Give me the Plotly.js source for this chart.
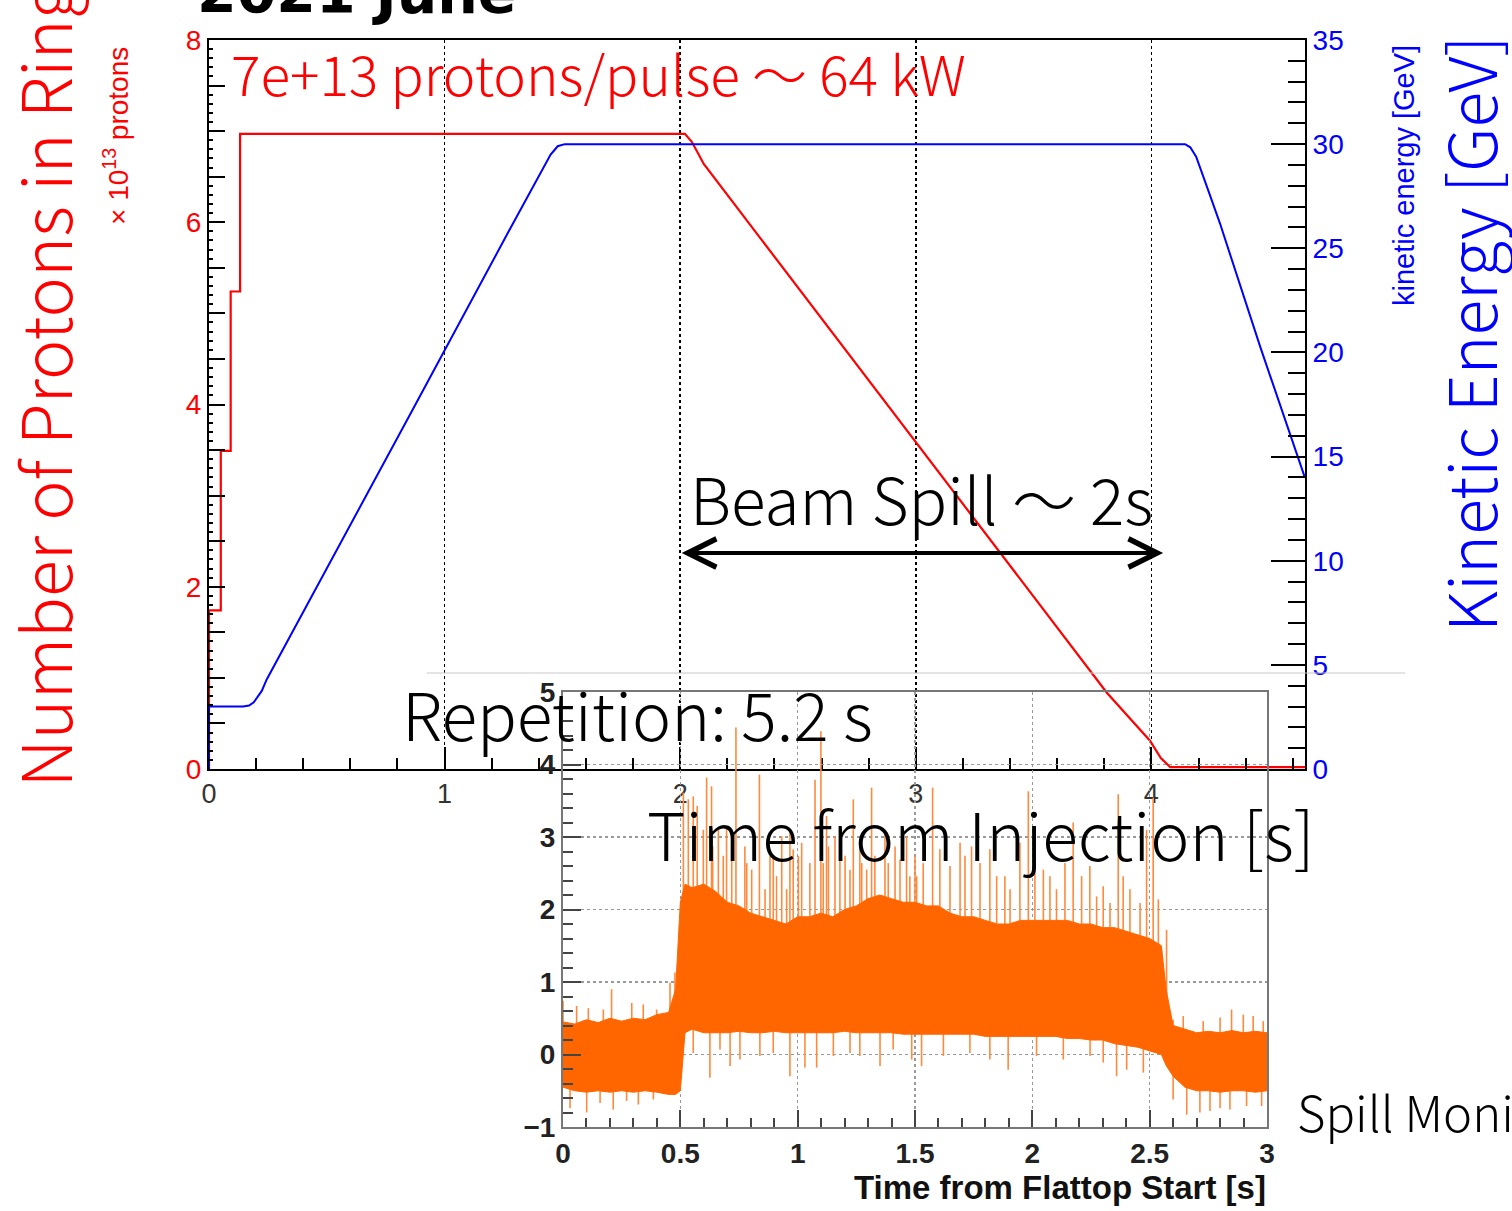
<!DOCTYPE html>
<html>
<head>
<meta charset="utf-8">
<script src="https://cdn.plot.ly/plotly-3.0.1.min.js"></script>
<style>
html,body{margin:0;padding:0;background:#fff;}
#chart{width:1512px;height:1211px;}
</style>
</head>
<body>
<div id="chart"></div>
<script>
// ---------- Main plot data ----------
// Number of protons in ring (x 1e13) vs time from injection [s]
const redT = [0, 0, 0.05, 0.05, 0.092, 0.092, 0.132, 0.132, 2.02, 2.05, 2.10, 3.81, 3.994, 4.04, 4.08, 4.652];
const redN = [0, 1.74, 1.74, 3.49, 3.49, 5.24, 5.24, 6.97, 6.97, 6.88, 6.64, 0.84, 0.31, 0.12, 0.02, 0.02];

// Kinetic energy [GeV] vs time from injection [s]
const blueT = [0, 0, 0.145, 0.17, 0.19, 0.224, 0.245, 0.457, 0.874, 1.292, 1.40, 1.45, 1.48, 1.51, 4.143, 4.165, 4.19, 4.22, 4.25, 4.291, 4.461, 4.652];
const blueE = [0, 3.0, 3.0, 3.05, 3.2, 3.75, 4.3, 8.72, 17.45, 26.23, 28.5, 29.5, 29.9, 30.0, 30.0, 29.85, 29.4, 28.5, 27.5, 26.2, 20.3, 13.98];

// ---------- Inset (spill monitor) data ----------
// dense signal band: upper and lower edge vs time from flattop start [s]
const bandT  = [0,0.05,0.1,0.15,0.2,0.25,0.3,0.35,0.4,0.45,0.48,0.5,0.52,0.55,0.6,0.65,0.7,0.75,0.8,0.85,0.9,0.95,1.0,1.05,1.1,1.15,1.2,1.25,1.3,1.35,1.4,1.45,1.5,1.55,1.6,1.65,1.7,1.75,1.8,1.85,1.9,1.95,2.0,2.05,2.1,2.15,2.2,2.25,2.3,2.35,2.4,2.45,2.5,2.55,2.57,2.6,2.65,2.7,2.75,2.8,2.85,2.9,2.95,3.0];
const bandHi = [0.45,0.42,0.48,0.44,0.5,0.46,0.5,0.48,0.55,0.58,0.9,2.1,2.35,2.3,2.35,2.25,2.1,2.05,1.95,1.9,1.85,1.8,1.9,1.9,1.95,1.9,2.0,2.05,2.15,2.2,2.15,2.1,2.1,2.05,2.05,1.95,1.9,1.9,1.85,1.8,1.8,1.85,1.85,1.85,1.85,1.85,1.8,1.8,1.75,1.75,1.7,1.65,1.6,1.5,0.9,0.4,0.35,0.3,0.32,0.3,0.33,0.3,0.32,0.3];
const bandLo = [-0.45,-0.5,-0.52,-0.5,-0.52,-0.5,-0.52,-0.5,-0.52,-0.55,-0.55,-0.5,0.3,0.35,0.3,0.3,0.3,0.32,0.3,0.3,0.32,0.3,0.3,0.3,0.3,0.3,0.32,0.3,0.3,0.3,0.3,0.28,0.28,0.28,0.28,0.28,0.28,0.28,0.25,0.25,0.25,0.25,0.25,0.25,0.25,0.22,0.22,0.2,0.2,0.15,0.12,0.1,0.05,0.0,-0.15,-0.3,-0.45,-0.5,-0.5,-0.52,-0.5,-0.5,-0.52,-0.5];

// tall isolated upward spikes (time, peak value)
const upSpikeT = [0.0,0.108,0.207,0.293,0.456,0.477,
  0.513,0.534,0.555,0.572,0.612,0.633,0.662,0.697,0.737,0.775,
  0.837,0.896,0.932,0.967,1.017,1.074,1.099,1.123,1.159,1.237,
  1.265,1.315,1.372,1.415,1.464,1.500,1.535,1.575,1.692,1.741,
  1.819,1.883,1.947,1.983,2.047,2.174,2.245,2.302,2.366,2.387,
  2.487,2.515,2.537,2.572,
  2.600,2.728,2.849,2.899,2.984];
const upSpikeV = [0.74,0.64,0.90,0.71,0.99,1.13,
  3.61,3.52,3.56,3.43,3.82,3.70,3.10,3.15,4.51,2.87,
  3.86,2.74,3.01,3.10,2.92,3.79,4.46,3.29,3.01,3.52,
  2.92,3.68,3.10,2.87,3.01,2.74,2.64,3.68,2.92,2.87,
  2.83,2.46,2.92,3.63,2.55,3.20,2.60,2.32,3.59,2.46,
  3.10,3.54,2.14,1.72,
  0.48,0.46,0.62,0.55,0.46];
// smaller upward spikes (time, peak value)
const upSmallT = [0.058,0.172,0.342,0.399,
  0.598,0.638,0.683,0.719,0.783,0.804,0.861,0.882,0.910,0.953,0.981,1.003,1.052,1.109,1.131,1.180,1.202,1.223,1.273,1.294,1.329,1.386,1.436,1.478,
  1.507,1.606,1.649,1.713,1.777,1.848,1.905,2.011,2.075,2.103,2.139,2.210,2.274,2.331,2.416,2.459,
  2.643,2.800,2.941];
const upSmallV = [0.67,0.62,0.69,0.62,
  3.10,2.87,2.74,2.83,2.64,2.55,2.28,2.74,2.46,2.28,2.83,2.74,2.64,2.64,2.87,2.83,2.74,2.55,2.64,2.55,2.74,2.64,2.69,2.46,
  2.46,2.83,2.60,2.74,2.64,2.46,2.28,2.64,2.46,2.28,2.64,2.46,2.18,2.09,2.28,2.09,
  0.53,0.51,0.53];
// downward spikes (time, dip value)
const dnSpikeT = [0.030,0.101,0.158,0.214,0.271,0.321,0.385,
  0.555,0.626,0.669,0.712,0.754,0.839,0.896,0.967,1.031,1.081,1.152,1.223,1.265,1.351,1.407,1.486,1.528,1.621,1.734,1.819,1.897,2.018,2.132,2.246,2.302,2.359,2.402,2.473,
  2.600,2.658,2.714,2.757,2.800,2.842,2.913,2.977];
const dnSpikeV = [-0.74,-0.80,-0.67,-0.76,-0.64,-0.69,-0.62,
  0.02,-0.32,0.07,-0.16,-0.07,-0.02,0.02,-0.30,-0.18,-0.18,-0.02,0.02,-0.02,-0.16,0.07,-0.07,-0.16,-0.02,0.02,-0.07,-0.21,-0.02,-0.07,-0.02,-0.11,-0.30,-0.21,-0.25,
  -0.62,-0.83,-0.80,-0.78,-0.74,-0.76,-0.71,-0.71];

// tick values / labels
const leftTickVals = [0,0.5,1,1.5,2,2.5,3,3.5,4,4.5,5,5.5,6,6.5,7,7.5,8];
const leftTickText = ['0','','','','2','','','','4','','','','6','','','','8'];
const leftGridVals = [2,4,6];
const rightTickVals = [0,5,10,15,20,25,30,35];
const mainXTickVals = [0,1,2,3,4];
const insetXTickVals = [0,0.5,1,1.5,2,2.5,3];
const insetXTickText = ['0','0.5','1','1.5','2','2.5','3'];
const insetYTickVals = [-1,0,1,2,3,4,5];

// ---------- helpers ----------
const W = 1512, H = 1211;
const px = x => x / W;
const py = y => 1 - y / H;

function nearestMid(t) {
  let best = 0;
  for (let i = 1; i < bandT.length; i++) {
    if (Math.abs(bandT[i] - t) < Math.abs(bandT[best] - t)) best = i;
  }
  return (bandHi[best] + bandLo[best]) / 2;
}
function spikeSegments(ts, vs) {
  const xs = [], ys = [];
  ts.forEach((t, i) => { xs.push(t, t, null); ys.push(nearestMid(t), vs[i], null); });
  return {xs, ys};
}
const up = spikeSegments(upSpikeT, upSpikeV);
const upS = spikeSegments(upSmallT, upSmallV);
const dn = spikeSegments(dnSpikeT, dnSpikeV);

const ORANGE = '#ff6600';
const SPIKE = '#ff8a3d';
const spikeTrace = s => ({x: s.xs, y: s.ys, xaxis: 'x2', yaxis: 'y3', mode: 'lines', line: {color: SPIKE, width: 1.6}, hoverinfo: 'skip', showlegend: false});
const traces = [
  spikeTrace(up), spikeTrace(upS), spikeTrace(dn),
  {x: bandT, y: bandLo, xaxis: 'x2', yaxis: 'y3', mode: 'lines', line: {color: ORANGE, width: 1}, showlegend: false},
  {x: bandT, y: bandHi, xaxis: 'x2', yaxis: 'y3', mode: 'lines', line: {color: ORANGE, width: 1}, fill: 'tonexty', fillcolor: ORANGE, showlegend: false},
  {x: blueT, y: blueE, xaxis: 'x', yaxis: 'y2', mode: 'lines', line: {color: '#0000ff', width: 2}, showlegend: false},
  {x: redT, y: redN, xaxis: 'x', yaxis: 'y', mode: 'lines', line: {color: '#ff0000', width: 2.2}, showlegend: false}
];

const tickFontMain = {family: 'Liberation Sans, Arial, sans-serif', size: 27, color: '#333'};
const insetTickFont = {family: 'Liberation Sans Narrow, Arial Narrow, Liberation Sans, sans-serif', size: 28, color: '#222', weight: 700};
const jp = 'Noto Sans CJK JP, Noto Sans, sans-serif';

const layout = {
  width: W, height: H,
  margin: {l: 0, r: 0, t: 0, b: 0},
  paper_bgcolor: '#ffffff',
  plot_bgcolor: 'rgba(0,0,0,0)',
  showlegend: false,
  xaxis: {
    domain: [px(209), px(1305)], anchor: 'y', range: [0, 4.652],
    tickmode: 'array', tickvals: mainXTickVals, ticks: 'inside', ticklen: 22, tickwidth: 2, tickcolor: '#000',
    minor: {dtick: 0.2, ticks: 'inside', ticklen: 11, tickwidth: 2, tickcolor: '#000', showgrid: false},
    showline: true, linecolor: '#000', linewidth: 2, mirror: true,
    showgrid: true, gridcolor: '#000', griddash: 'dot', gridwidth: 1.5,
    zeroline: false, tickfont: tickFontMain
  },
  yaxis: {
    domain: [py(769), py(40)], anchor: 'x', range: [0, 8],
    tickmode: 'array', tickvals: leftTickVals, ticktext: leftTickText,
    ticks: 'inside', ticklen: 16, tickwidth: 2, tickcolor: '#000',
    minor: {dtick: 0.1, ticks: 'inside', ticklen: 4, tickwidth: 2, tickcolor: '#000', showgrid: false},
    showline: true, linecolor: '#000', linewidth: 2,
    showgrid: false, zeroline: false,
    tickfont: {family: 'Liberation Sans, Arial, sans-serif', size: 28, color: '#ff0000'}
  },
  yaxis4: {
    overlaying: 'y', anchor: 'x', side: 'left', range: [0, 8],
    tickmode: 'array', tickvals: leftGridVals, showticklabels: false, ticks: '',
    showgrid: true, gridcolor: '#000', griddash: 'dot', gridwidth: 1.5, showline: false, zeroline: false
  },
  yaxis2: {
    overlaying: 'y', anchor: 'x', side: 'right', range: [0, 35],
    tickmode: 'array', tickvals: rightTickVals, ticks: 'inside', ticklen: 34, tickwidth: 2, tickcolor: '#000',
    minor: {dtick: 1, ticks: 'inside', ticklen: 17, tickwidth: 2, tickcolor: '#000', showgrid: false},
    showline: true, linecolor: '#000', linewidth: 2, showgrid: false, zeroline: false,
    tickfont: {family: 'Liberation Sans, Arial, sans-serif', size: 28, color: '#0000ff'}
  },
  xaxis2: {
    domain: [px(563), px(1267)], anchor: 'y3', range: [0, 3],
    tickmode: 'array', tickvals: insetXTickVals, ticktext: insetXTickText,
    ticks: 'inside', ticklen: 17, tickwidth: 2, tickcolor: '#444',
    minor: {dtick: 0.1, ticks: 'inside', ticklen: 9, tickwidth: 2, tickcolor: '#444', showgrid: false},
    showline: true, linecolor: '#777', linewidth: 2, mirror: true,
    showgrid: true, gridcolor: '#999', griddash: 'dot', gridwidth: 1.5, zeroline: false,
    tickfont: insetTickFont, ticklabelstandoff: 0
  },
  yaxis3: {
    domain: [py(1127), py(692)], anchor: 'x2', range: [-1, 5],
    tickmode: 'array', tickvals: insetYTickVals,
    ticks: 'inside', ticklen: 18, tickwidth: 2, tickcolor: '#444',
    minor: {dtick: 0.2, ticks: 'inside', ticklen: 10, tickwidth: 2, tickcolor: '#444', showgrid: false},
    showline: true, linecolor: '#777', linewidth: 2, mirror: true,
    showgrid: true, gridcolor: '#999', griddash: 'dot', gridwidth: 1.5, zeroline: false,
    tickfont: insetTickFont, ticklabelstandoff: 0
  },
  shapes: [
    {type: 'line', xref: 'paper', yref: 'paper', x0: px(427), x1: px(1405), y0: py(673), y1: py(673), line: {color: '#c8c8c8', width: 1}}
  ],
  annotations: [
    {text: '<b>2021 June</b>', xref: 'paper', yref: 'paper', x: px(195), y: py(28), xanchor: 'left', yanchor: 'bottom', showarrow: false,
     font: {family: 'DejaVu Sans, sans-serif', size: 57, color: '#000'}},
    {text: '7e+13 protons/pulse ～ 64 kW', xref: 'paper', yref: 'paper', x: px(229), y: py(72), xanchor: 'left', yanchor: 'middle', showarrow: false,
     font: {family: jp, size: 55, color: '#ff0000', weight: 300}},
    {text: 'Number of Protons in Ring', xref: 'paper', yref: 'paper', x: px(42), y: py(790), xanchor: 'center', yanchor: 'bottom', textangle: -90, showarrow: false,
     font: {family: jp, size: 68, color: '#ff0000', weight: 300}},
    {text: '× 10<sup>13</sup> protons', xref: 'paper', yref: 'paper', x: px(116), y: py(136), xanchor: 'center', yanchor: 'middle', textangle: -90, showarrow: false,
     font: {family: 'Liberation Sans, Arial, sans-serif', size: 28, color: '#ff0000'}},
    {text: 'kinetic energy [GeV]', xref: 'paper', yref: 'paper', x: px(1404), y: py(176), xanchor: 'center', yanchor: 'middle', textangle: -90, showarrow: false,
     font: {family: 'Liberation Sans, Arial, sans-serif', size: 29, color: '#0000ff'}},
    {text: 'Kinetic Energy [GeV]', xref: 'paper', yref: 'paper', x: px(1468), y: py(334), xanchor: 'center', yanchor: 'middle', textangle: -90, showarrow: false,
     font: {family: jp, size: 66, color: '#0000ff', weight: 300}},
    {text: 'Beam Spill ～ 2s', xref: 'paper', yref: 'paper', x: px(688), y: py(497), xanchor: 'left', yanchor: 'middle', showarrow: false,
     font: {family: jp, size: 64, color: '#000', weight: 300}},
    {text: '', xref: 'x', yref: 'y', x: 4.05, y: 2.37, ax: 2.0, ay: 2.37, axref: 'x', ayref: 'y',
     showarrow: true, arrowhead: 5, arrowside: 'end+start', arrowsize: 1.4, arrowwidth: 4, arrowcolor: '#000', standoff: 0, startstandoff: 0},
    {text: 'Repetition: 5.2 s', xref: 'paper', yref: 'paper', x: px(400), y: py(712), xanchor: 'left', yanchor: 'middle', showarrow: false,
     font: {family: jp, size: 66, color: '#000', weight: 300}},
    {text: 'Time from Injection [s]', xref: 'paper', yref: 'paper', x: px(1317), y: py(832), xanchor: 'right', yanchor: 'middle', showarrow: false,
     font: {family: jp, size: 66, color: '#000', weight: 300}},
    {text: 'Time from Flattop Start [s]', xref: 'paper', yref: 'paper', x: px(1268), y: py(1187), xanchor: 'right', yanchor: 'middle', showarrow: false,
     font: {family: 'Liberation Sans Narrow, Arial Narrow, Liberation Sans, sans-serif', size: 33, color: '#111', weight: 700}},
    {text: 'Spill Monitor', xref: 'paper', yref: 'paper', x: px(1295), y: py(1110), xanchor: 'left', yanchor: 'middle', showarrow: false,
     font: {family: jp, size: 49, color: '#000', weight: 300}}
  ]
};

Plotly.newPlot('chart', traces, layout, {displayModeBar: false, staticPlot: true});
</script>
</body>
</html>
